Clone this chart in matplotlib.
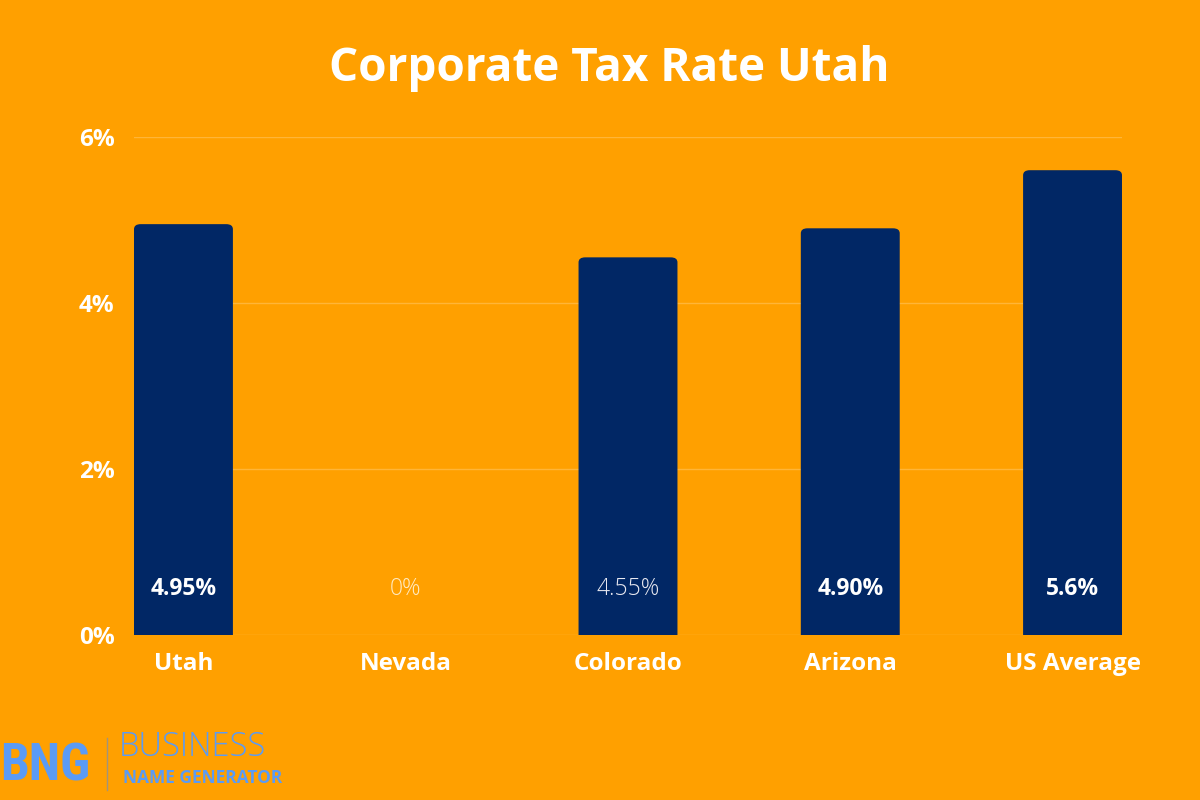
import matplotlib.pyplot as plt
from matplotlib.patches import FancyBboxPatch

states = ["Utah", "Nevada", "Colorado", "Arizona", "US Average"]
rates = [4.95, 0, 4.55, 4.90, 5.6]
labels = ["4.95%", "0%", "4.55%", "4.90%", "5.6%"]
label_bold = [True, False, False, True, True]
yticks = [0, 2, 4, 6]

orange = "#FFA000"
navy = "#012765"
grid = "#FFB538"

plt.rcParams['font.family'] = ['Open Sans', 'DejaVu Sans']

fig = plt.figure(figsize=(12, 8), dpi=100, facecolor=orange)
ax = fig.add_axes([134 / 1200, 165 / 800, 988 / 1200, 498 / 800])
ax.set_facecolor(orange)

w = 0.445
ax.set_xlim(-w / 2, len(states) - 1 + w / 2)
ax.set_ylim(0, 6)

for i, v in enumerate(rates):
    if v > 0:
        p = FancyBboxPatch((i - w / 2, -0.2), w, v + 0.2,
                           boxstyle="round,pad=0,rounding_size=0.03",
                           mutation_aspect=2.0, fc=navy, ec="none", zorder=3)
        ax.add_patch(p)
    col = "white" if label_bold[i] else ("#FFEBC4" if v == 0 else "#E8E8F0")
    ax.text(i, 0.55, labels[i], ha="center", va="center", color=col,
            fontsize=16.5, fontweight="bold" if label_bold[i] else "light", zorder=4)

ax.set_yticks(yticks)
ax.set_yticklabels([f"{t}%" for t in yticks])
ax.yaxis.grid(True, color=grid, lw=1)
ax.set_axisbelow(True)
ax.set_xticks(range(len(states)))
ax.set_xticklabels(states)
for s in ax.spines.values():
    s.set_visible(False)
ax.tick_params(length=0, colors="white", labelsize=17.5)
ax.tick_params(axis="y", pad=14)
ax.tick_params(axis="x", pad=12)
for t in ax.get_xticklabels() + ax.get_yticklabels():
    t.set_fontweight("bold")

fig.text(0.508, 0.915, "Corporate Tax Rate Utah", ha="center", va="center",
         color="white", fontsize=33, fontweight="bold")

# logo
blue = "#5B9BF5"
fig.text(0.0, 0.042, "BNG", color=blue, fontsize=37, fontweight="bold",
         va="center", ha="left", family=["Roboto Condensed", "Roboto", "DejaVu Sans"])
fig.add_artist(plt.Line2D([107 / 1200, 107 / 1200], [10 / 800, 62 / 800],
                          color="#7A8FB0", lw=1, alpha=0.7))
fig.text(119 / 1200, 0.0665, "BUSINESS", color=blue, fontsize=23.5,
         fontweight="light", va="center", ha="left")
fig.text(123 / 1200, 0.0275, "NAME GENERATOR", color=blue, fontsize=12.5,
         fontweight="bold", va="center", ha="left")

fig.savefig("out.png", dpi=100, facecolor=orange)
